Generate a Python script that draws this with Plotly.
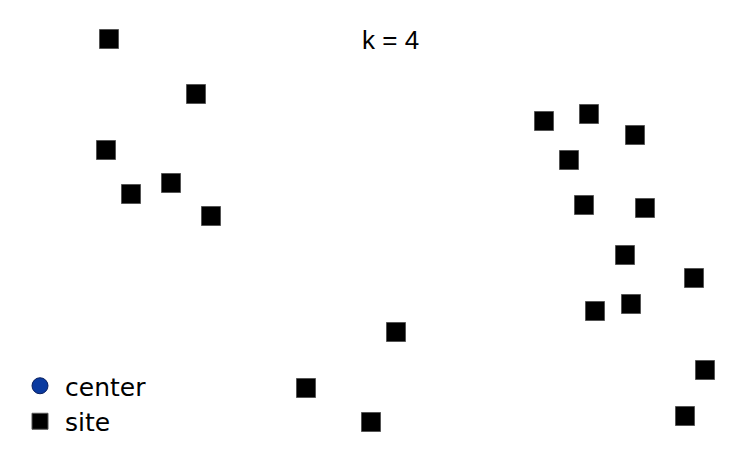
import plotly.graph_objects as go

site_x = [109, 196, 106, 131, 171, 211, 544, 589, 635, 569, 584, 645, 625, 694, 595, 631, 396, 306, 371, 705, 685]
site_y = [39, 94, 150, 194, 183, 216, 121, 114, 135, 160, 205, 208, 255, 278, 311, 304, 332, 388, 422, 370, 416]
center_x = []
center_y = []
title_text = "k = 4"

# page body has an 8px margin; offset axis ranges so data units equal screen pixels
OFF = 8

fig = go.Figure()
fig.add_trace(go.Scatter(
    x=center_x if center_x else [None], y=center_y if center_y else [None],
    mode="markers", name="center",
    marker=dict(symbol="circle", size=18, color="#0a3aa0", line=dict(color="#0a2060", width=1)),
))
fig.add_trace(go.Scatter(
    x=site_x, y=site_y, mode="markers", name="site",
    marker=dict(symbol="square", size=19, color="black", line=dict(color="#555555", width=1)),
))
fig.add_annotation(x=390, y=40, xref="x", yref="y", text=title_text, showarrow=False,
                   font=dict(family="Liberation Sans", size=26, color="black"))
fig.update_layout(
    width=748, height=466,
    margin=dict(l=0, r=0, t=0, b=0),
    paper_bgcolor="white", plot_bgcolor="white",
    xaxis=dict(range=[OFF, 748 + OFF], visible=False, fixedrange=True),
    yaxis=dict(range=[466 + OFF, OFF], visible=False, fixedrange=True),
    showlegend=True,
    legend=dict(x=7/748, y=1-355/466, xanchor="left", yanchor="top",
                font=dict(family="DejaVu Sans", size=25, color="black"),
                bgcolor="rgba(0,0,0,0)", itemwidth=40, tracegroupgap=0),
)
fig.write_html("out.html")
